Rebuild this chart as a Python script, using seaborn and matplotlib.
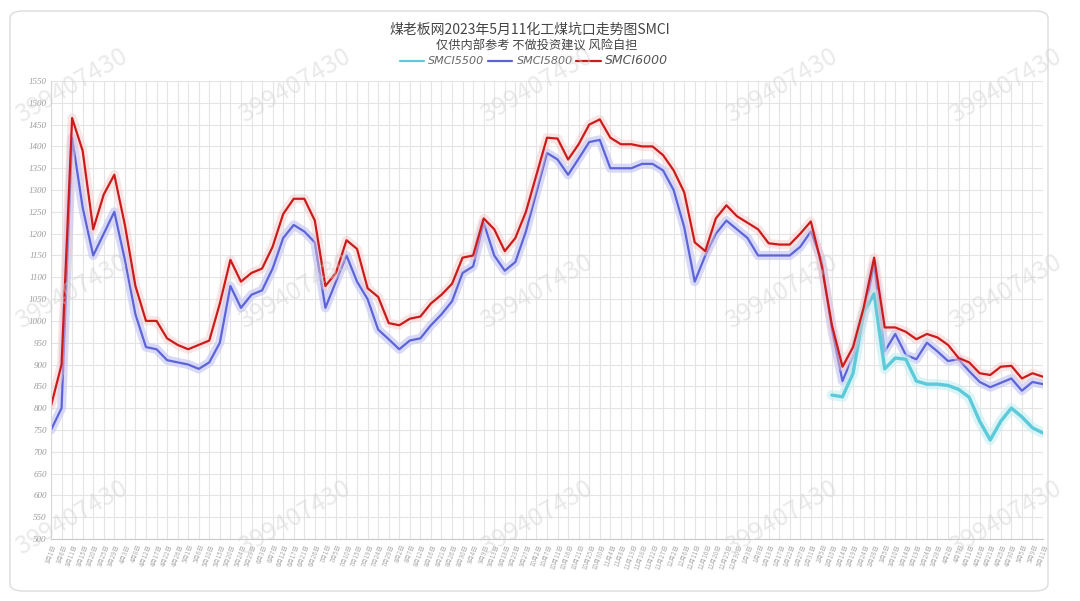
import matplotlib
matplotlib.use('Agg')
import matplotlib.pyplot as plt
import matplotlib.patheffects as pe
from matplotlib.lines import Line2D
from matplotlib.patches import FancyBboxPatch
import numpy as np
import pandas as pd
import seaborn as sns

# data (2022-03 .. 2023-05)
dates = [
  '3月1日', '3月6日', '3月11日', '3月15日', '3月20日', '3月25日', '3月29日', '4月3日', '4月8日', '4月12日',
  '4月17日', '4月22日', '4月26日', '5月1日', '5月6日', '5月10日', '5月15日', '5月20日', '5月24日', '5月29日',
  '6月3日', '6月7日', '6月12日', '6月17日', '6月21日', '6月26日', '7月1日', '7月5日', '7月10日', '7月15日',
  '7月19日', '7月24日', '7月29日', '8月2日', '8月7日', '8月12日', '8月16日', '8月21日', '8月26日', '8月30日',
  '9月4日', '9月9日', '9月13日', '9月18日', '9月23日', '9月27日', '10月2日', '10月7日', '10月11日', '10月16日',
  '10月21日', '10月25日', '10月30日', '11月4日', '11月8日', '11月13日', '11月18日', '11月22日', '11月27日', '12月2日',
  '12月6日', '12月11日', '12月16日', '12月20日', '12月25日', '12月30日', '1月3日', '1月8日', '1月13日', '1月17日',
  '1月22日', '1月27日', '1月31日', '2月5日', '2月10日', '2月14日', '2月19日', '2月24日', '2月28日', '3月5日',
  '3月10日', '3月14日', '3月19日', '3月24日', '3月28日', '4月2日', '4月7日', '4月11日', '4月16日', '4月21日',
  '4月25日', '4月30日', '5月5日', '5月9日', '5月11日']

smci6000 = [
  805, 900, 1465, 1390, 1210, 1290, 1335, 1220, 1080, 1000,
  1000, 960, 945, 935, 945, 955, 1040, 1140, 1090, 1110,
  1120, 1170, 1245, 1280, 1280, 1230, 1080, 1110, 1185, 1165,
  1075, 1055, 995, 990, 1005, 1010, 1040, 1060, 1085, 1145,
  1150, 1235, 1210, 1160, 1190, 1250, 1335, 1420, 1418, 1370,
  1405, 1450, 1462, 1420, 1405, 1405, 1400, 1400, 1380, 1345,
  1295, 1180, 1160, 1235, 1265, 1240, 1225, 1210, 1178, 1175,
  1175, 1200, 1228, 1130, 990, 895, 940, 1030, 1145, 985,
  985, 975, 958, 970, 962, 945, 915, 905, 880, 876,
  895, 897, 868, 880, 872]

smci5800 = [
  750, 800, 1420, 1260, 1150, 1200, 1250, 1140, 1015, 940,
  935, 910, 905, 900, 890, 905, 950, 1080, 1030, 1060,
  1070, 1120, 1190, 1220, 1205, 1180, 1030, 1090, 1150, 1090,
  1050, 980, 958, 935, 955, 960, 990, 1015, 1045, 1110,
  1125, 1225, 1150, 1115, 1135, 1205, 1295, 1385, 1370, 1335,
  1372, 1410, 1415, 1350, 1350, 1350, 1360, 1360, 1345, 1300,
  1215, 1090, 1150, 1200, 1230, 1210, 1190, 1150, 1150, 1150,
  1150, 1170, 1205, 1140, 980, 862, 920, 1010, 1130, 930,
  970, 922, 912, 950, 930, 908, 912, 885, 860, 848,
  858, 868, 840, 860, 855]

smci5500 = [np.nan] * 74 + [
  830, 826, 880, 1020, 1062, 890, 915, 912, 862, 855,
  855, 852, 843, 825, 770, 727, 770, 800, 780, 755,
  743]

y_ticks = list(range(500, 1551, 50))

df = pd.DataFrame({'date': dates, 'SMCI5500': smci5500,
                   'SMCI5800': smci5800, 'SMCI6000': smci6000})
df['pos'] = range(len(df))

sns.set_style('white')
plt.rcParams['font.family'] = ['Noto Sans CJK SC', 'DejaVu Sans']

fig = plt.figure(figsize=(10.8, 6.01), dpi=100)
ax = fig.add_axes([51 / 1080, 1 - 539 / 601, (1043 - 51) / 1080, (539 - 81) / 601])

# outer card
fig.patches.append(FancyBboxPatch((10 / 1080, 10 / 601), 1038 / 1080, 580 / 601,
                                  boxstyle='round,pad=0,rounding_size=0.012',
                                  transform=fig.transFigure, fill=False,
                                  edgecolor='#dcdcdc', linewidth=1.0, zorder=0))

styles = {
  'SMCI5800': ('#5d64d8', '#c9cbf6', 1.6, 0.7),
  'SMCI6000': ('#cc1b1b', '#f5c6c6', 1.6, 0.45),
  'SMCI5500': ('#5ccad8', '#c4eef3', 2.4, 0.6),
}
for col in ['SMCI5800', 'SMCI5500', 'SMCI6000']:
  c, glow, lw, ga = styles[col]
  sns.lineplot(data=df, x='pos', y=col, ax=ax, color=c, linewidth=lw, legend=False,
               path_effects=[pe.Stroke(linewidth=lw + 5, foreground=glow, alpha=ga),
                             pe.Normal()])

ax.set_xlim(0, len(dates) - 1)
ax.set_ylim(500, 1550)
ax.set_yticks(y_ticks)
ax.set_yticklabels([str(v) for v in y_ticks], fontsize=6.5, color='#9a9a9a',
                   fontstyle='italic', family=['Liberation Serif'])
ax.set_xticks(df['pos'])
ax.set_xticklabels(dates, fontsize=4.5, color='#aaaaaa', rotation=70,
                   ha='right', rotation_mode='anchor')
ax.tick_params(axis='both', length=0, pad=3)
ax.set_xlabel('')
ax.set_ylabel('')
ax.grid(True, color='#e4e4e4', linewidth=0.8)
ax.set_axisbelow(True)
for s in ['top', 'right']:
  ax.spines[s].set_visible(False)
ax.spines['left'].set_color('#d8d8d8')
ax.spines['bottom'].set_color('#c8c8c8')

legend_names = ['SMCI5500', 'SMCI5800', 'SMCI6000']
handles = [Line2D([], [], color=styles[n][0], linewidth=1.6) for n in legend_names]
leg = fig.legend(handles, legend_names,
                 loc='center', bbox_to_anchor=(534 / 1080, 1 - 61 / 601), ncol=3,
                 frameon=False, handlelength=2.2, handletextpad=0.4, columnspacing=0.3,
                 prop={'style': 'italic', 'size': 8, 'family': 'DejaVu Sans'},
                 labelcolor='#666666')
leg.get_texts()[2].set_fontsize(9)
leg.get_texts()[2].set_color('#555555')

fig.text(530 / 1080, 1 - 30 / 601, '煤老板网2023年5月11化工煤坑口走势图SMCI',
         ha='center', va='center', fontsize=10, color='#444444')
fig.text(537 / 1080, 1 - 46 / 601, '仅供内部参考 不做投资建议 风险自担',
         ha='center', va='center', fontsize=8.8, color='#444444')

# watermarks
for cx in [72, 295, 537, 782, 1006]:
  for cy in [86, 292, 518]:
    fig.text(cx / 1080, 1 - cy / 601, '399407430', ha='center', va='center',
             rotation=30, fontsize=18, color='#d0d0d0', alpha=0.45, zorder=10)

fig.savefig('out.png', dpi=100)
